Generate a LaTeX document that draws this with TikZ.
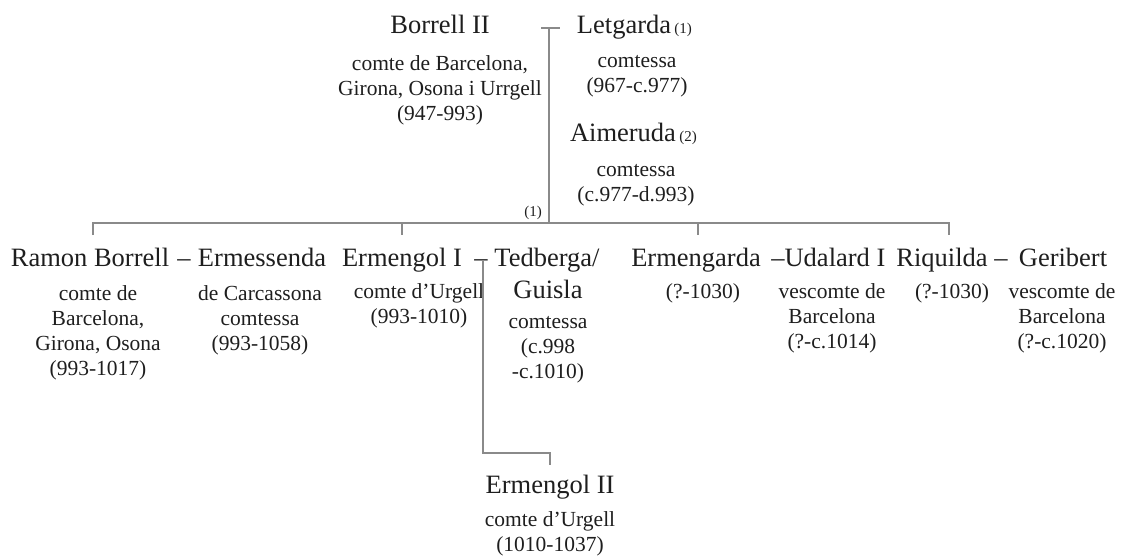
\documentclass[tikz,border=0pt]{standalone}
\usepackage{fontspec}
\setmainfont{Liberation Serif}
\definecolor{txt}{HTML}{1E1E1E}
\definecolor{lin}{HTML}{8A8A8A}
\begin{document}
\begin{tikzpicture}[x=1pt,y=-1pt,
  pname/.style={font=\fontsize{26.5}{28}\selectfont, inner sep=0pt, anchor=base, text=txt},
  info/.style={font=\fontsize{21.5}{25}\selectfont, inner sep=0pt, anchor=north, align=center, text=txt},
  sm/.style={font=\fontsize{15}{16}\selectfont, inner sep=0pt, anchor=base, text=txt},
  link/.style={draw=lin, line width=1.1pt}]
\useasboundingbox (0,0) rectangle (1121,556);
% generation 1
\node[pname] (borrell) at (440,34) {Borrell II};
\node[info] (borrellI) at (440,55) {comte de Barcelona,\\Girona, Osona i Urrgell\\(947-993)};
\node[pname] (letgarda) at (624,34) {Letgarda};
\node[sm, anchor=base west] (let1) at ([xshift=3pt]letgarda.base east) {(1)};
\node[info] (letgardaI) at (637,55) {comtessa\\(967-c.977)};
\node[pname] (aimeruda) at (623,142) {Aimeruda};
\node[sm, anchor=base west] (aim2) at ([xshift=3pt]aimeruda.base east) {(2)};
\node[info] (aimerudaI) at (636,164) {comtessa\\(c.977-d.993)};
\node[sm] (one) at (533,216) {(1)};
% generation 2
\node[pname] (ramon) at (90,266) {Ramon Borrell};
\node[pname] (d1) at (184,266) {–};
\node[pname] (ermessenda) at (262,266) {Ermessenda};
\node[info] (ramonI) at (98,285) {comte de\\Barcelona,\\Girona, Osona\\(993-1017)};
\node[info] (ermessendaI) at (260,285) {de Carcassona\\comtessa\\(993-1058)};
\node[pname] (ermengol) at (402,266) {Ermengol I};
\node[pname] (d2) at (481,266) {–};
\node[info] (ermengolI) at (419,283) {comte d’Urgell\\(993-1010)};
\node[pname] (tedberga) at (547,266) {Tedberga/};
\node[pname] (guisla) at (548,298) {Guisla};
\node[info] (tedbergaI) at (548,316) {comtessa\\(c.998\\-c.1010)};
\node[pname] (ermengarda) at (696,266) {Ermengarda};
\node[info] (ermengardaI) at (703,283) {(?-1030)};
\node[pname] (d3) at (778,266) {–};
\node[pname] (udalard) at (835,266) {Udalard I};
\node[info] (udalardI) at (832,283) {vescomte de\\Barcelona\\(?-c.1014)};
\node[pname] (riquilda) at (942,266) {Riquilda};
\node[info] (riquildaI) at (952,283) {(?-1030)};
\node[pname] (d4) at (1001,266) {–};
\node[pname] (geribert) at (1063,266) {Geribert};
\node[info] (geribertI) at (1062,283) {vescomte de\\Barcelona\\(?-c.1020)};
% generation 3
\node[pname] (ermengolII) at (550,493) {Ermengol II};
\node[info] (ermengolIII) at (550,511) {comte d’Urgell\\(1010-1037)};
% connectors
\coordinate (mL) at (541,28);
\coordinate (mR) at (560,28);
\coordinate (mT) at (549,28);
\coordinate (mB) at (549,223);
\coordinate (hL) at (93,223);
\coordinate (hR) at (949,223);
\coordinate (t1) at (93,235);
\coordinate (t2a) at (402,223);
\coordinate (t2) at (402,235);
\coordinate (t3a) at (698,223);
\coordinate (t3) at (698,235);
\coordinate (t4) at (949,235);
\coordinate (cT) at (483,261);
\coordinate (cB) at (483,453);
\coordinate (cR) at (550,453);
\coordinate (cE) at (550,465);
\draw[link] (mL) -- (mR);
\draw[link] (mT) -- (mB);
\draw[link] (t1) -- (hL) -- (hR) -- (t4);
\draw[link] (t2a) -- (t2);
\draw[link] (t3a) -- (t3);
\draw[link] (cT) -- (cB) -- (cR) -- (cE);
\end{tikzpicture}
\end{document}
